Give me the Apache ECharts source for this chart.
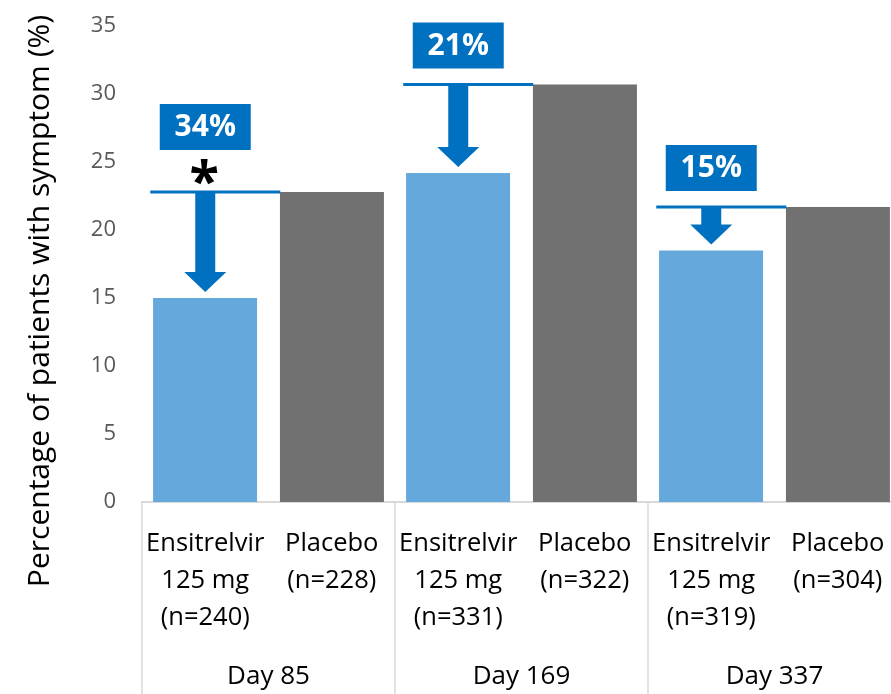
<!DOCTYPE html>
<html>
<head>
<meta charset="utf-8">
<script src="https://cdn.jsdelivr.net/npm/echarts@6/dist/echarts.min.js"></script>
<style>
  html, body { margin: 0; padding: 0; background: #fff; }
  #chart { width: 891px; height: 694px; }
</style>
</head>
<body>
<div id="chart"></div>
<script>
// data
var days = ["Day 85", "Day 169", "Day 337"];
var armLabels = [
  "Ensitrelvir\n125 mg\n(n=240)", "Placebo\n(n=228)",
  "Ensitrelvir\n125 mg\n(n=331)", "Placebo\n(n=322)",
  "Ensitrelvir\n125 mg\n(n=319)", "Placebo\n(n=304)"
];
var ensitrelvir = [15.0, 24.2, 18.5];
var placebo = [22.8, 30.7, 21.7];
var reduction = ["34%", "21%", "15%"];
var significant = [1, 0, 0];

var FONT = "'Open Sans', 'Noto Sans', sans-serif";
var BLUE = "#0070C0";

var annoData = days.map(function (d, i) {
  return [i, ensitrelvir[i], placebo[i], reduction[i], significant[i]];
});

// reduction arrow + label box drawn from the two bar values
function renderArrow(params, api) {
  var i = api.value(0);
  var top = api.coord([i, api.value(2)]);
  var low = api.coord([i, api.value(1)]);
  var band = api.size([1, 0])[0];
  var cx = top[0] - band / 4;
  var yLine = top[1];
  var tip = low[1] - 6;
  var headTop = tip - 20;
  var star = api.value(4) === 1;
  var boxBottom = yLine - (star ? 42 : 16);
  var children = [
    {
      type: "rect",
      shape: { x: cx - 55, y: yLine - 1.5, width: 130, height: 3 },
      style: { fill: BLUE }
    },
    {
      type: "polygon",
      shape: {
        points: [
          [cx - 10, yLine], [cx + 10, yLine], [cx + 10, headTop],
          [cx + 21, headTop], [cx, tip], [cx - 21, headTop], [cx - 10, headTop]
        ]
      },
      style: { fill: BLUE }
    },
    {
      type: "rect",
      shape: { x: cx - 45.5, y: boxBottom - 46, width: 91, height: 46 },
      style: { fill: BLUE }
    },
    {
      type: "text",
      x: cx,
      y: boxBottom - 22,
      style: {
        text: reduction[params.dataIndex],
        fill: "#fff",
        font: "bold 30px " + FONT,
        align: "center",
        verticalAlign: "middle"
      }
    }
  ];
  if (star) {
    children.push({
      type: "text",
      x: cx - 1,
      y: yLine + 20,
      style: {
        text: "*",
        fill: "#000",
        font: "bold 54px " + FONT,
        align: "center",
        verticalAlign: "bottom"
      }
    });
  }
  return { type: "group", children: children };
}

var chart = echarts.init(document.getElementById("chart"));
chart.setOption({
  backgroundColor: "#fff",
  animation: false,
  grid: { left: 142, width: 759, top: 26, bottom: 192, outerBoundsMode: "none" },
  xAxis: [
    {
      type: "category",
      data: days,
      axisLine: { lineStyle: { color: "#d9d9d9", width: 2 } },
      axisTick: { show: true, length: 192, lineStyle: { color: "#d9d9d9", width: 1.5 } },
      axisLabel: {
        margin: 160,
        color: "#000",
        fontSize: 26,
        fontFamily: FONT,
        lineHeight: 30
      }
    },
    {
      type: "category",
      position: "bottom",
      data: armLabels,
      axisLine: { show: false },
      axisTick: { show: false },
      axisLabel: {
        interval: 0,
        margin: 23,
        color: "#000",
        fontSize: 25.5,
        fontFamily: FONT,
        lineHeight: 37,
        verticalAlign: "top"
      }
    }
  ],
  yAxis: {
    type: "value",
    min: 0,
    max: 35,
    interval: 5,
    axisLine: { show: false },
    axisTick: { show: false },
    splitLine: { show: false },
    axisLabel: { margin: 26, color: "#595959", fontSize: 22, fontFamily: FONT }
  },
  graphic: [
    {
      type: "text",
      x: 40,
      y: 301,
      rotation: Math.PI / 2,
      style: {
        text: "Percentage of patients with symptom (%)",
        font: "30px " + FONT,
        fill: "#000",
        align: "center",
        verticalAlign: "middle"
      }
    }
  ],
  series: [
    {
      name: "Ensitrelvir",
      type: "bar",
      data: ensitrelvir,
      barWidth: 104,
      barGap: "22%",
      itemStyle: { color: "#65A9DC" }
    },
    {
      name: "Placebo",
      type: "bar",
      data: placebo,
      barWidth: 104,
      itemStyle: { color: "#717171" }
    },
    {
      type: "custom",
      renderItem: renderArrow,
      data: annoData,
      z: 5,
      silent: true
    }
  ]
});
</script>
</body>
</html>
